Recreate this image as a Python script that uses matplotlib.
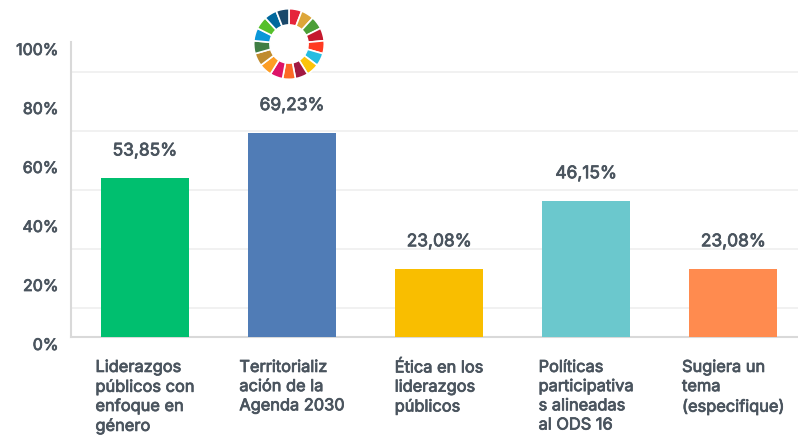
import matplotlib
matplotlib.use("Agg")
import matplotlib.pyplot as plt
import matplotlib.patheffects as pe
from matplotlib.transforms import ScaledTranslation

categories = [
    "Liderazgos\npúblicos con\nenfoque en\ngénero",
    "Territorializ\nación de la\nAgenda 2030",
    "Ética en los\nliderazgos\npúblicos",
    "Políticas\nparticipativa\ns alineadas\nal ODS 16",
    "Sugiera un\ntema\n(especifique)",
]
values = [53.85, 69.23, 23.08, 46.15, 23.08]
value_labels = ["53,85%", "69,23%", "23,08%", "46,15%", "23,08%"]
bar_colors = ["#00bf6f", "#507cb6", "#f9be00", "#6bc8cd", "#ff8b4f"]
y_ticks = [0, 20, 40, 60, 80, 100]
y_tick_labels = ["0%", "20%", "40%", "60%", "80%", "100%"]
grid_ticks = [10, 20, 30, 40, 50, 60, 70, 80, 90]
sdg_colors = ["#e5243b", "#dda63a", "#4c9f38", "#c5192d", "#ff3a21", "#26bde2",
              "#fcc30b", "#a21942", "#fd6925", "#dd1367", "#fd9d24", "#bf8b2e",
              "#3f7e44", "#0a97d9", "#56c02b", "#00689d", "#19486a"]

text_color = "#4a545e"
plt.rcParams["font.family"] = ["Inter", "DejaVu Sans"]
# only the regular weight is available, so thicken it a little
thick = [pe.withStroke(linewidth=0.55, foreground=text_color)]

fig = plt.figure(figsize=(7.98, 4.38), dpi=100)
ax = fig.add_axes([71 / 798, 101 / 438, 727 / 798, 295 / 438])

x = range(len(categories))
ax.bar(x, values, width=0.6, color=bar_colors, zorder=3)
for i, v in enumerate(values):
    ax.text(i, v + 9.2, value_labels[i], ha="center", va="center", fontsize=12.5,
            color=text_color, zorder=4, path_effects=thick)

ax.set_xlim(-0.503, 4.44)
ax.set_ylim(0, 100)
ax.set_yticks(y_ticks)
ax.set_yticklabels(y_tick_labels, fontsize=11.5, color=text_color, path_effects=thick)
ax.set_yticks(grid_ticks, minor=True)
ax.yaxis.grid(True, which="minor", color="#efefef", linewidth=1.2, zorder=0)
ax.tick_params(axis="y", which="both", length=0, pad=9)
shift = ScaledTranslation(0, -7 / 100, fig.dpi_scale_trans)
for label in ax.get_yticklabels():
    label.set_transform(label.get_transform() + shift)

ax.set_xticks(list(x))
ax.set_xticklabels(categories, fontsize=11.8, color=text_color, path_effects=thick,
                   multialignment="left", linespacing=1.35)
ax.tick_params(axis="x", length=0, pad=16.5)

for side in ["top", "right"]:
    ax.spines[side].set_visible(False)
for side in ["left", "bottom"]:
    ax.spines[side].set_color("#d9d9d9")
    ax.spines[side].set_linewidth(1.5)

# sdg wheel above the second bar
wheel = fig.add_axes([253 / 798, (438 - 80) / 438, 72 / 798, 72 / 438])
wheel.pie([1] * len(sdg_colors), colors=sdg_colors, startangle=90, counterclock=False,
          radius=1.0, wedgeprops={"width": 0.46, "edgecolor": "white", "linewidth": 1.2})
wheel.set_xlim(-1.02, 1.02)
wheel.set_ylim(-1.02, 1.02)
wheel.set_aspect("equal")
wheel.patch.set_visible(True)
wheel.patch.set_facecolor("white")

fig.savefig("out.png", dpi=100)
